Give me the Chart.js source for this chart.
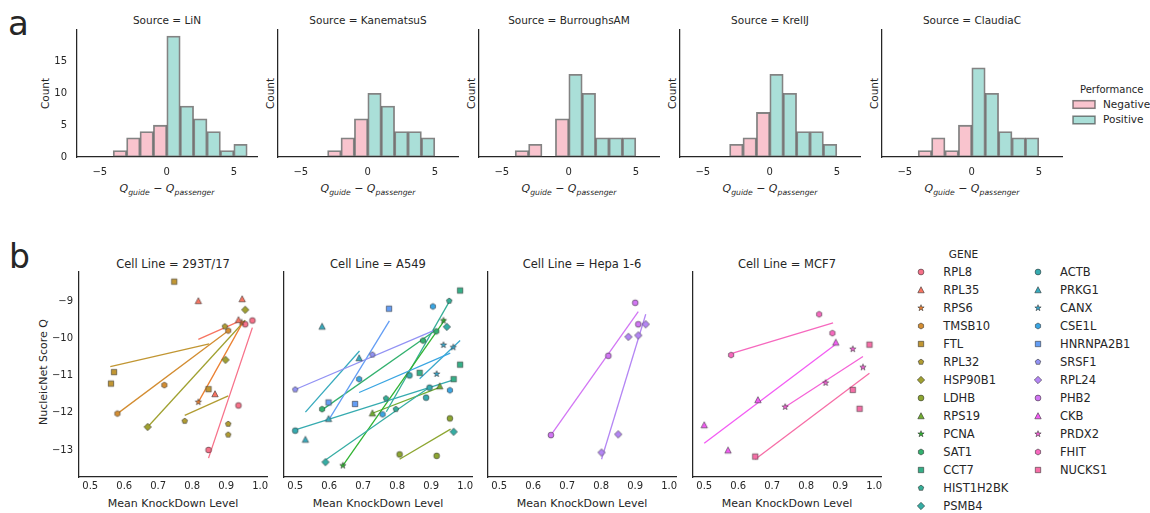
<!DOCTYPE html>
<html>
<head>
<meta charset="utf-8">
<script src="https://cdn.jsdelivr.net/npm/chart.js@4.4.1/dist/chart.umd.min.js"></script>
<style>
  html, body { margin: 0; padding: 0; background: #fff; }
  #fig { position: relative; width: 1150px; height: 513px; overflow: hidden; font-family: "DejaVu Sans", sans-serif; }
  #fig canvas { position: absolute; }
  #txt { position: absolute; left: 0; top: 0; pointer-events: none; }
</style>
</head>
<body>
<div id="fig"><svg id="txt" width="1150" height="513" xmlns="http://www.w3.org/2000/svg"></svg></div>
<script>
// ---------------- panel a: histograms of Q_guide - Q_passenger ----------------
const sources = ['LiN', 'KanematsuS', 'BurroughsAM', 'KrellJ', 'ClaudiaC'];
const binCenters = [-5.5, -4.5, -3.5, -2.5, -1.5, -0.5, 0.5, 1.5, 2.5, 3.5, 4.5, 5.5];
const countsLiN         = [0, 0, 1, 3, 4, 5, 19, 8, 6, 4, 1, 2];
const countsKanematsuS  = [0, 0, 0, 1, 3, 6, 10, 8, 4, 4, 3, 0];
const countsBurroughsAM = [0, 0, 1, 2, 0, 6, 13, 10, 3, 3, 3, 0];
const countsKrellJ      = [0, 0, 0, 2, 3, 7, 13, 10, 4, 4, 2, 0];
const countsClaudiaC    = [0, 0, 1, 3, 1, 5, 14, 10, 4, 3, 3, 0];
const countTicks = [0, 5, 10, 15];
const diffTicks = [-5, 0, 5];

// ---------------- panel b: NucleicNet score vs knockdown ----------------
const genes = ['RPL8', 'RPL35', 'RPS6', 'TMSB10', 'FTL', 'RPL32', 'HSP90B1', 'LDHB', 'RPS19', 'PCNA',
  'SAT1', 'CCT7', 'HIST1H2BK', 'PSMB4', 'ACTB', 'PRKG1', 'CANX', 'CSE1L', 'HNRNPA2B1', 'SRSF1',
  'RPL24', 'PHB2', 'CKB', 'PRDX2', 'FHIT', 'NUCKS1'];
const cellLines = ['293T/17', 'A549', 'Hepa 1-6', 'MCF7'];
const knockdownTicks = [0.5, 0.6, 0.7, 0.8, 0.9, 1.0];
const scoreTicks = [-13, -12, -11, -10, -9];

// [gene, mean knockdown, score]
const pts293T = [
  ['FTL', 0.747, -8.46], ['RPL35', 0.818, -8.98], ['RPL35', 0.947, -8.93], ['HSP90B1', 0.956, -9.22],
  ['RPL35', 0.936, -9.49], ['RPS6', 0.945, -9.56], ['RPL8', 0.956, -9.61], ['RPL8', 0.977, -9.51],
  ['RPL32', 0.896, -9.67], ['TMSB10', 0.906, -9.78], ['HSP90B1', 0.898, -10.57], ['FTL', 0.570, -10.90],
  ['FTL', 0.561, -11.21], ['TMSB10', 0.718, -11.25], ['FTL', 0.848, -11.36], ['RPL35', 0.867, -11.49],
  ['RPS6', 0.818, -11.71], ['RPL8', 0.936, -11.80], ['TMSB10', 0.580, -12.02], ['RPL32', 0.778, -12.22],
  ['HSP90B1', 0.669, -12.38], ['RPL32', 0.906, -12.30], ['RPL32', 0.906, -12.59], ['RPL8', 0.848, -13.00]
];
const ptsA549 = [
  ['CCT7', 0.985, -8.70], ['HIST1H2BK', 0.953, -8.98], ['CSE1L', 0.905, -9.13], ['HNRNPA2B1', 0.776, -9.19],
  ['PRKG1', 0.579, -9.67], ['PCNA', 0.936, -9.51], ['PSMB4', 0.946, -9.68], ['SAT1', 0.915, -9.80],
  ['SAT1', 0.876, -10.05], ['CANX', 0.936, -10.17], ['CANX', 0.965, -10.23], ['PRKG1', 0.688, -10.52],
  ['SRSF1', 0.727, -10.43], ['CCT7', 0.985, -10.70], ['CSE1L', 0.688, -11.09], ['ACTB', 0.836, -10.99],
  ['CANX', 0.916, -10.95], ['CCT7', 0.866, -10.92], ['CCT7', 0.966, -11.09], ['RPS19', 0.925, -11.28],
  ['ACTB', 0.895, -11.32], ['SRSF1', 0.500, -11.37], ['CSE1L', 0.955, -11.39], ['ACTB', 0.885, -11.59],
  ['HIST1H2BK', 0.767, -11.61], ['HNRNPA2B1', 0.598, -11.72], ['HNRNPA2B1', 0.676, -11.76], ['SAT1', 0.579, -11.90],
  ['HIST1H2BK', 0.796, -11.90], ['RPS19', 0.727, -12.01], ['CSE1L', 0.757, -12.04], ['PRKG1', 0.598, -12.16],
  ['LDHB', 0.955, -12.15], ['ACTB', 0.500, -12.48], ['PSMB4', 0.966, -12.51], ['PRKG1', 0.530, -12.72],
  ['LDHB', 0.807, -13.12], ['LDHB', 0.916, -13.16], ['PSMB4', 0.589, -13.33], ['PCNA', 0.640, -13.42]
];
const ptsHepa = [
  ['PHB2', 0.900, -9.03], ['PHB2', 0.909, -9.61], ['RPL24', 0.931, -9.61], ['RPL24', 0.880, -9.95],
  ['RPL24', 0.909, -9.91], ['PHB2', 0.821, -10.46], ['PHB2', 0.652, -12.60], ['RPL24', 0.850, -12.58],
  ['RPL24', 0.801, -13.07]
];
const ptsMCF7 = [
  ['FHIT', 0.838, -9.34], ['FHIT', 0.877, -9.85], ['CKB', 0.887, -10.10], ['NUCKS1', 0.986, -10.16],
  ['PRDX2', 0.937, -10.28], ['FHIT', 0.579, -10.44], ['PRDX2', 0.967, -10.77], ['NUCKS1', 0.937, -11.38],
  ['PRDX2', 0.857, -11.19], ['CKB', 0.658, -11.65], ['PRDX2', 0.738, -11.84], ['NUCKS1', 0.957, -11.89],
  ['CKB', 0.500, -12.33], ['CKB', 0.570, -13.01], ['NUCKS1', 0.650, -13.18]
];

// fitted trend per gene: [gene, x start, y start, x end, y end]
const fit293T = [
  ['RPL8', 0.848, -13.22, 0.977, -9.70], ['RPL35', 0.818, -10.02, 0.936, -9.54],
  ['RPS6', 0.818, -11.71, 0.950, -9.54], ['TMSB10', 0.580, -12.02, 0.911, -9.75],
  ['FTL', 0.559, -10.75, 0.850, -10.14], ['RPL32', 0.778, -12.07, 0.906, -11.54],
  ['HSP90B1', 0.669, -12.38, 0.956, -9.50]
];
const fitA549 = [
  ['SRSF1', 0.500, -11.37, 0.907, -9.78], ['PRKG1', 0.530, -11.98, 0.689, -10.33],
  ['HNRNPA2B1', 0.600, -12.17, 0.777, -9.52], ['SAT1', 0.579, -11.92, 0.915, -9.76],
  ['CSE1L', 0.688, -11.45, 0.956, -10.39], ['CANX', 0.866, -11.08, 0.985, -10.05],
  ['ACTB', 0.500, -12.46, 0.966, -11.11], ['PSMB4', 0.589, -13.27, 0.895, -11.31],
  ['PCNA', 0.640, -13.42, 0.941, -9.48], ['HIST1H2BK', 0.768, -11.97, 0.957, -8.94],
  ['RPS19', 0.727, -12.01, 0.925, -11.31], ['LDHB', 0.807, -13.25, 0.957, -12.44]
];
const fitHepa = [
  ['PHB2', 0.652, -12.60, 0.909, -9.27], ['RPL24', 0.801, -13.25, 0.931, -9.34]
];
const fitMCF7 = [
  ['FHIT', 0.579, -10.40, 0.879, -9.57], ['CKB', 0.500, -12.82, 0.887, -10.15],
  ['PRDX2', 0.738, -11.84, 0.967, -10.48], ['NUCKS1', 0.650, -13.25, 0.986, -10.93]
];

// ---------------- styling ----------------
const FONT = 'DejaVu Sans';
const INK = '#262626';
const NEG_FILL = '#f9c4ce';
const POS_FILL = '#aadfd8';
const BAR_EDGE = 'rgba(55,55,55,0.62)';
const markerCycle = ['o', '^', '*', 'h', 's', 'p', 'D'];

Chart.defaults.font.family = FONT;
Chart.defaults.color = INK;

// HUSL colour wheel (same maths as seaborn's husl palette)
const MROWS = [[3.2406, -1.5372, -0.4986], [-0.9689, 1.8758, 0.0415], [0.0557, -0.2040, 1.0570]];
function maxChroma(L, H) {
  const hr = H / 360 * 2 * Math.PI, sinH = Math.sin(hr), cosH = Math.cos(hr);
  const sub1 = Math.pow(L + 16, 3) / 1560896;
  const sub2 = sub1 > 0.008856 ? sub1 : L / 903.3;
  let res = Infinity;
  for (const [m1, m2, m3] of MROWS) {
    const top = (0.99915 * m1 + 1.05122 * m2 + 1.14460 * m3) * sub2;
    const rb = 0.86330 * m3 - 0.17266 * m2;
    const lb = 0.12949 * m3 - 0.38848 * m1;
    const bottom = (rb * sinH + lb * cosH) * sub2;
    for (const t of [0, 1]) {
      const C = L * (top - 1.05122 * t) / (bottom + 0.17266 * sinH * t);
      if (C > 0 && C < res) res = C;
    }
  }
  return res;
}
function huslToRgb(h, s, l) {
  const C = maxChroma(l, h) / 100 * s;
  const hr = h / 360 * 2 * Math.PI;
  const U = Math.cos(hr) * C, V = Math.sin(hr) * C;
  const fInv = t => (Math.pow(t, 3) > 0.008856 ? Math.pow(t, 3) : (116 * t - 16) / 903.3);
  const Y = fInv((l + 16) / 116);
  const vU = U / (13 * l) + 0.19784, vV = V / (13 * l) + 0.46834;
  const X = 0 - (9 * Y * vU) / ((vU - 4) * vV - vU * vV);
  const Z = (9 * Y - 15 * vV * Y - vV * X) / (3 * vV);
  return MROWS.map(r => {
    let c = r[0] * X + r[1] * Y + r[2] * Z;
    c = c <= 0.0031308 ? 12.92 * c : 1.055 * Math.pow(c, 1 / 2.4) - 0.055;
    return Math.round(Math.min(1, Math.max(0, c)) * 255);
  });
}
const geneColor = {};
genes.forEach((g, i) => {
  const h = ((i / genes.length + 0.01) % 1) * 359;
  const [r, gg, b] = huslToRgb(h, 0.9 * 99, 0.65 * 99);
  geneColor[g] = `rgb(${r},${gg},${b})`;
});

// marker glyphs rendered once and handed to Chart.js as point styles
function markerCanvas(shape, color) {
  const S = 14, c = document.createElement('canvas');
  c.width = S; c.height = S;
  const g = c.getContext('2d');
  g.translate(S / 2, S / 2);
  g.beginPath();
  const poly = (n, r, rot) => {
    for (let k = 0; k < n; k++) {
      const a = rot + k * 2 * Math.PI / n;
      const px = r * Math.sin(a), py = -r * Math.cos(a);
      k ? g.lineTo(px, py) : g.moveTo(px, py);
    }
    g.closePath();
  };
  if (shape === 'o') g.arc(0, 0, 2.9, 0, 2 * Math.PI);
  else if (shape === '^') { g.moveTo(0, -3.3); g.lineTo(-3.2, 2.8); g.lineTo(3.2, 2.8); g.closePath(); }
  else if (shape === '*') {
    for (let k = 0; k < 10; k++) {
      const r = k % 2 ? 1.3 : 3.3, a = k * Math.PI / 5;
      const px = r * Math.sin(a), py = -r * Math.cos(a);
      k ? g.lineTo(px, py) : g.moveTo(px, py);
    }
    g.closePath();
  }
  else if (shape === 'h') poly(6, 3.0, 0);
  else if (shape === 's') g.rect(-2.7, -2.7, 5.4, 5.4);
  else if (shape === 'p') poly(5, 2.9, 0);
  else if (shape === 'D') poly(4, 3.7, 0);
  g.fillStyle = color;
  g.fill();
  g.lineWidth = 0.6;
  g.strokeStyle = 'rgba(40,40,40,0.9)';
  g.stroke();
  return c;
}
const geneMarker = {};
genes.forEach((g, i) => { geneMarker[g] = markerCanvas(markerCycle[i % markerCycle.length], geneColor[g]); });

const minusFmt = v => (v < 0 ? '\u2212' : '') + Math.abs(v);
const fig = document.getElementById('fig');

function addCanvas(left, top, w, h) {
  const cv = document.createElement('canvas');
  cv.width = w; cv.height = h;
  cv.style.left = left + 'px'; cv.style.top = top + 'px';
  cv.style.width = w + 'px'; cv.style.height = h + 'px';
  fig.appendChild(cv);
  return cv;
}
// fixed axis boxes so every plot area lands on the same grid
const fixX = h => s => { s.height = h; s.paddingLeft = 0; s.paddingRight = 0; };
const fixY = w => s => { s.width = w; s.paddingTop = 0; s.paddingBottom = 0; };

// ---------------- draw panel a ----------------
const histCounts = [countsLiN, countsKanematsuS, countsBurroughsAM, countsKrellJ, countsClaudiaC];
const topLefts = [77, 278, 479, 680, 882];
const TOP_W = 180, TOP_Y = 30, TOP_H = 127;

sources.forEach((src, i) => {
  const counts = histCounts[i];
  const cv = addCanvas(topLefts[i] - 40, TOP_Y - 6, TOP_W + 46, TOP_H + 36);
  const barStyle = { borderColor: BAR_EDGE, borderWidth: 1.8, borderSkipped: false, grouped: false,
    barPercentage: 1, categoryPercentage: 1 };
  new Chart(cv, {
    type: 'bar',
    data: {
      datasets: [
        Object.assign({ label: 'Negative', backgroundColor: NEG_FILL,
          data: binCenters.map((x, k) => ({ x, y: counts[k] })).filter(p => p.x < 0) }, barStyle),
        Object.assign({ label: 'Positive', backgroundColor: POS_FILL,
          data: binCenters.map((x, k) => ({ x, y: counts[k] })).filter(p => p.x > 0) }, barStyle)
      ]
    },
    options: {
      responsive: false, animation: false, devicePixelRatio: 1, events: [],
      layout: { padding: { left: 0, top: 6, right: 6, bottom: 0 } },
      plugins: { legend: { display: false }, tooltip: { enabled: false } },
      scales: {
        x: {
          type: 'linear', min: -6.7, max: 6.73, offset: false,
          afterBuildTicks: s => { s.ticks = diffTicks.map(v => ({ value: v })); },
          afterFit: fixX(30),
          grid: { display: false, drawTicks: false },
          border: { color: INK, width: 1.25 },
          ticks: { font: { size: 10 }, color: INK, padding: 9, maxRotation: 0, autoSkip: false, callback: v => minusFmt(v) }
        },
        y: {
          min: 0, max: 19.95,
          afterBuildTicks: s => { s.ticks = countTicks.map(v => ({ value: v })); },
          afterFit: fixY(40),
          grid: { display: false, drawTicks: false },
          border: { color: INK, width: 1.25 },
          ticks: { display: i === 0, font: { size: 10 }, color: INK, padding: 10, autoSkip: false }
        }
      }
    }
  });
});

// ---------------- draw panel b ----------------
const cellPoints = [pts293T, ptsA549, ptsHepa, ptsMCF7];
const cellFits = [fit293T, fitA549, fitHepa, fitMCF7];
const botLefts = [79, 284, 488, 693];
const BOT_W = 188, BOT_Y = 272, BOT_H = 205;

cellLines.forEach((cl, i) => {
  const cv = addCanvas(botLefts[i] - 40, BOT_Y - 6, BOT_W + 48, BOT_H + 28);
  const datasets = [];
  cellFits[i].forEach(([g, x0, y0, x1, y1]) => {
    datasets.push({
      type: 'line', label: g, data: [{ x: x0, y: y0 }, { x: x1, y: y1 }],
      borderColor: geneColor[g], borderWidth: 1.3, pointRadius: 0, fill: false, tension: 0,
      order: 2, clip: false
    });
  });
  const byGene = {};
  cellPoints[i].forEach(([g, x, y]) => { (byGene[g] = byGene[g] || []).push({ x, y }); });
  Object.keys(byGene).forEach(g => {
    datasets.push({
      type: 'scatter', label: g, data: byGene[g],
      pointStyle: geneMarker[g], pointRadius: 4, order: 1, clip: false
    });
  });
  new Chart(cv, {
    type: 'scatter',
    data: { datasets },
    options: {
      responsive: false, animation: false, devicePixelRatio: 1, events: [],
      layout: { padding: { left: 0, top: 6, right: 8, bottom: 0 } },
      plugins: { legend: { display: false }, tooltip: { enabled: false } },
      scales: {
        x: {
          type: 'linear', min: 0.467, max: 1.020,
          afterBuildTicks: s => { s.ticks = knockdownTicks.map(v => ({ value: v })); },
          afterFit: fixX(22),
          grid: { display: false, drawTicks: false },
          border: { color: INK, width: 1.25 },
          ticks: { font: { size: 10 }, color: INK, padding: 3, maxRotation: 0, autoSkip: false, callback: v => v.toFixed(1) }
        },
        y: {
          type: 'linear', min: -13.73, max: -8.2,
          afterBuildTicks: s => { s.ticks = scoreTicks.map(v => ({ value: v })); },
          afterFit: fixY(40),
          grid: { display: false, drawTicks: false },
          border: { color: INK, width: 1.25 },
          ticks: { display: i === 0, font: { size: 10 }, color: INK, padding: 6, autoSkip: false, callback: v => minusFmt(v) }
        }
      }
    }
  });
});

// ---------------- text, legends ----------------
const svg = document.getElementById('txt');
const NS = 'http://www.w3.org/2000/svg';
function txt(x, y, s, opt = {}) {
  const t = document.createElementNS(NS, 'text');
  t.setAttribute('x', x); t.setAttribute('y', y);
  t.setAttribute('font-family', FONT);
  t.setAttribute('font-size', opt.size || 10);
  t.setAttribute('fill', INK);
  if (opt.anchor) t.setAttribute('text-anchor', opt.anchor);
  if (opt.rotate) t.setAttribute('transform', `rotate(-90 ${x} ${y})`);
  t.textContent = s;
  svg.appendChild(t);
  return t;
}
function rect(x, y, w, h, fill) {
  const r = document.createElementNS(NS, 'rect');
  r.setAttribute('x', x); r.setAttribute('y', y); r.setAttribute('width', w); r.setAttribute('height', h);
  r.setAttribute('fill', fill); r.setAttribute('stroke', BAR_EDGE); r.setAttribute('stroke-width', 1.5);
  svg.appendChild(r);
}

txt(8, 35, 'a', { size: 34 });
txt(9, 268, 'b', { size: 33 });

sources.forEach((src, i) => {
  const cx = topLefts[i] + TOP_W / 2;
  txt(cx, 24, 'Source = ' + src, { size: 10.5, anchor: 'middle' });
  txt(i === 0 ? 48.5 : topLefts[i] - 4, TOP_Y + TOP_H / 2, 'Count', { size: 10.5, anchor: 'middle', rotate: true });
  // x label: Q_guide − Q_passenger
  const t = document.createElementNS(NS, 'text');
  t.setAttribute('x', cx); t.setAttribute('y', 192);
  t.setAttribute('font-family', FONT); t.setAttribute('font-size', 11);
  t.setAttribute('fill', INK); t.setAttribute('text-anchor', 'middle');
  const parts = [['Q', 11, 'italic', 0], ['guide', 7.7, 'italic', 2.6], [' \u2212 ', 11, 'normal', -2.6],
                 ['Q', 11, 'italic', 0], ['passenger', 7.7, 'italic', 2.6]];
  parts.forEach(([s, fs, st, dy]) => {
    const sp = document.createElementNS(NS, 'tspan');
    sp.setAttribute('font-size', fs); sp.setAttribute('font-style', st);
    if (dy) sp.setAttribute('dy', dy);
    sp.textContent = s;
    t.appendChild(sp);
  });
  svg.appendChild(t);
});

cellLines.forEach((cl, i) => {
  const cx = botLefts[i] + BOT_W / 2;
  txt(cx, 268, 'Cell Line = ' + cl, { size: 11.5, anchor: 'middle' });
  txt(cx, 507, 'Mean KnockDown Level', { size: 11, anchor: 'middle' });
});
txt(46.5, 372, 'NucleicNet Score Q', { size: 11, anchor: 'middle', rotate: true });

// performance legend
txt(1080, 93, 'Performance', { size: 10 });
rect(1073, 100.7, 22, 7.6, NEG_FILL);
txt(1103, 107.5, 'Negative', { size: 10.5 });
rect(1073, 116.2, 22, 7.6, POS_FILL);
txt(1103, 123, 'Positive', { size: 10.5 });

// gene legend (two columns)
txt(963.5, 257.7, 'GENE', { size: 10.5, anchor: 'middle' });
genes.forEach((g, i) => {
  const col = i < 14 ? 0 : 1, row = i < 14 ? i : i - 14;
  const cy = 271.7 + row * 18.02;
  const mx = col ? 1038 : 921;
  const icon = markerCanvas(markerCycle[i % markerCycle.length], geneColor[g]);
  icon.style.left = (mx - 7) + 'px';
  icon.style.top = Math.round(cy - 7) + 'px';
  fig.appendChild(icon);
  txt(col ? 1060 : 943.3, cy + 4, g, { size: 11.5 });
});
</script>
</body>
</html>
